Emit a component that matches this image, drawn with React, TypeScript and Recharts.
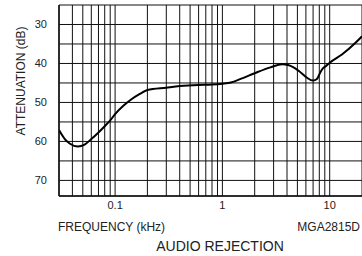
import { LineChart, Line, XAxis, YAxis, CartesianGrid } from 'recharts';

// frequency (kHz) and attenuation (dB)
const freq = [
  0.03, 0.034, 0.038, 0.045, 0.052, 0.06, 0.07, 0.08, 0.09, 0.1, 0.12, 0.14,
  0.17, 0.2, 0.3, 0.4, 0.6, 0.8, 1.0, 1.2, 1.5, 2.0, 2.8, 3.6, 4.1, 4.6, 5.2,
  6.1, 7.0, 7.6, 8.1, 8.6, 9.2, 10, 13, 17.4, 20,
];
const attenuation = [
  57.1, 59.4, 60.6, 61.3, 60.8, 59.4, 57.7, 56.1, 54.6, 53.0, 50.8, 49.3,
  47.8, 46.8, 46.2, 45.8, 45.5, 45.4, 45.2, 44.9, 43.9, 42.5, 41.0, 40.2, 40.4,
  41.0, 42.0, 43.6, 44.4, 44.0, 42.5, 41.3, 40.7, 39.8, 37.7, 34.7, 33.0,
];

const xGrid = [
  0.03, 0.04, 0.05, 0.06, 0.07, 0.08, 0.09,
  0.1, 0.2, 0.3, 0.4, 0.5, 0.6, 0.7, 0.8, 0.9,
  1, 2, 3, 4, 5, 6, 7, 8, 9,
  10, 20,
];
const xLabels = [0.1, 1, 10];
const yGrid = [25, 30, 35, 40, 45, 50, 55, 60, 65, 70];
const yLabels = [30, 40, 50, 60, 70];

const data = freq.map((f, i) => ({ f, db: attenuation[i] }));

const font = '"Liberation Sans", Arial, sans-serif';

export default function App() {
  return (
    <div style={{ position: 'absolute', left: 0, top: 0, width: 362, height: 256, background: '#fff' }}>
      <LineChart width={362} height={256} data={data} margin={{ top: 5, right: 0, bottom: 0, left: 0 }}>
        <CartesianGrid stroke="#111" strokeWidth={1} />
        <XAxis
          dataKey="f"
          type="number"
          scale="log"
          domain={[0.03, 20]}
          allowDataOverflow
          ticks={xGrid}
          interval={0}
          tickFormatter={(v: number) => (xLabels.includes(v) ? String(v) : '')}
          tickLine={false}
          tickSize={3}
          tickMargin={2}
          axisLine={{ stroke: '#111', strokeWidth: 1.5 }}
          height={60}
          tick={{ fontSize: 11, fill: '#222', fontFamily: font }}
        />
        <YAxis
          type="number"
          reversed
          domain={[25, 74]}
          allowDataOverflow
          ticks={yGrid}
          interval={0}
          tickFormatter={(v: number) => (yLabels.includes(v) ? String(v) : '')}
          tickLine={false}
          tickSize={6}
          tickMargin={6}
          axisLine={{ stroke: '#111', strokeWidth: 1.5 }}
          width={59}
          tick={{ fontSize: 11, fill: '#222', fontFamily: font }}
        />
        <Line
          type="monotone"
          dataKey="db"
          stroke="#000"
          strokeWidth={2}
          dot={false}
          isAnimationActive={false}
        />
      </LineChart>
      <svg width={362} height={256} style={{ position: 'absolute', left: 0, top: 0, pointerEvents: 'none' }}>
        <g fontFamily={font} fill="#222">
          <text x={21} y={81} fontSize={12} textAnchor="middle" dominantBaseline="central" transform="rotate(-90 21 81)">
            ATTENUATION (dB)
          </text>
          <text x={58} y={231} fontSize={12}>FREQUENCY (kHz)</text>
          <text x={360} y={231} fontSize={12} textAnchor="end">MGA2815D</text>
          <text x={220} y={251} fontSize={14} textAnchor="middle">AUDIO REJECTION</text>
        </g>
      </svg>
    </div>
  );
}
